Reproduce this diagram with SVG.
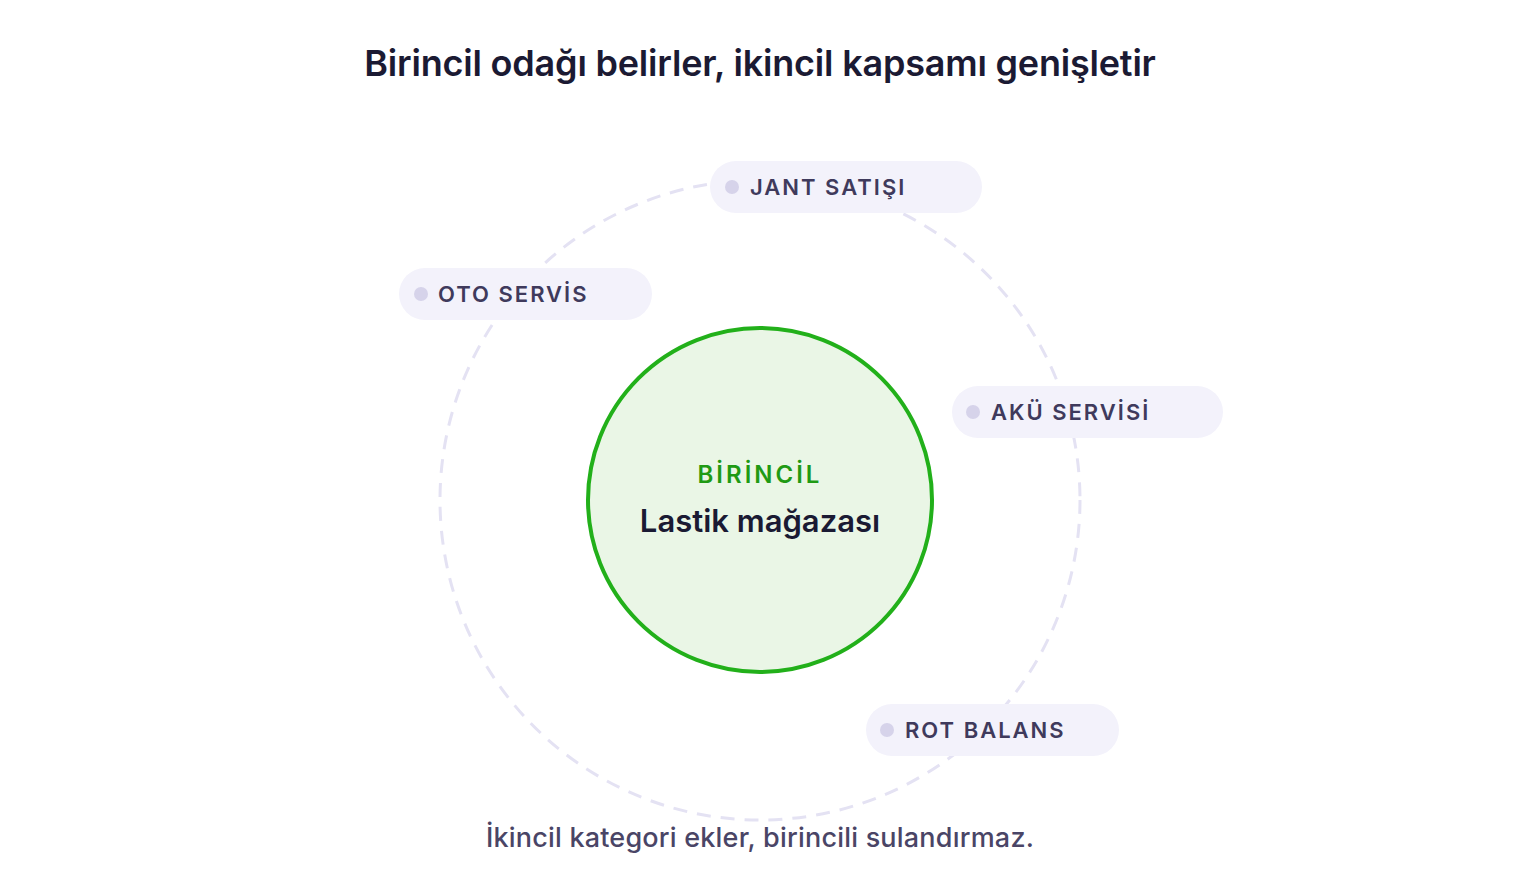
<svg xmlns="http://www.w3.org/2000/svg" width="1520" height="880" viewBox="0 0 1520 880">
<style>
.title{font-family:Inter,"Noto Sans",sans-serif;font-weight:600;font-size:36px;fill:#1b1a33;letter-spacing:-0.2px}
.foot{font-family:Inter,"Noto Sans",sans-serif;font-weight:500;font-size:27px;fill:#4a4566;letter-spacing:0.2px}
.pill{fill:#f3f2fb}
.dot{fill:#d6d3ea}
.plabel{font-family:Inter,"Noto Sans",sans-serif;font-weight:600;font-size:22px;fill:#3f3a5c;letter-spacing:2px}
.orbit{fill:none;stroke:#e4e2f3;stroke-width:3;stroke-dasharray:14 10}
</style>
<rect width="1520" height="880" fill="#ffffff"/>
<text class="title" x="760" y="76" text-anchor="middle">Birincil odağı belirler, ikincil kapsamı genişletir</text>
<g id="connectors">
<circle class="orbit" cx="760" cy="500" r="320"/>
</g>
<g id="primary">
<circle cx="760" cy="500" r="172" fill="#eaf6e6" stroke="#22b01a" stroke-width="4"/>
<text x="760" y="483" text-anchor="middle" font-family="Inter,'Noto Sans',sans-serif" font-weight="600" font-size="24" letter-spacing="3" fill="#1f9a14">BİRİNCİL</text>
<text x="760" y="532" text-anchor="middle" font-family="Inter,'Noto Sans',sans-serif" font-weight="600" font-size="31" fill="#1a1a33">Lastik mağazası</text>
</g>
<g id="jant">
<rect class="pill" x="710" y="161" width="272" height="52" rx="26"/>
<circle class="dot" cx="732" cy="187" r="7"/>
<text class="plabel" x="750" y="195">JANT SATIŞI</text>
</g>
<g id="oto">
<rect class="pill" x="399" y="268" width="253" height="52" rx="26"/>
<circle class="dot" cx="421" cy="294" r="7"/>
<text class="plabel" x="438" y="302">OTO SERVİS</text>
</g>
<g id="aku">
<rect class="pill" x="952" y="386" width="271" height="52" rx="26"/>
<circle class="dot" cx="973" cy="412" r="7"/>
<text class="plabel" x="991" y="420">AKÜ SERVİSİ</text>
</g>
<g id="rot">
<rect class="pill" x="866" y="704" width="253" height="52" rx="26"/>
<circle class="dot" cx="887" cy="730" r="7"/>
<text class="plabel" x="905" y="738">ROT BALANS</text>
</g>
<text class="foot" x="760" y="847" text-anchor="middle">İkincil kategori ekler, birincili sulandırmaz.</text>
</svg>
